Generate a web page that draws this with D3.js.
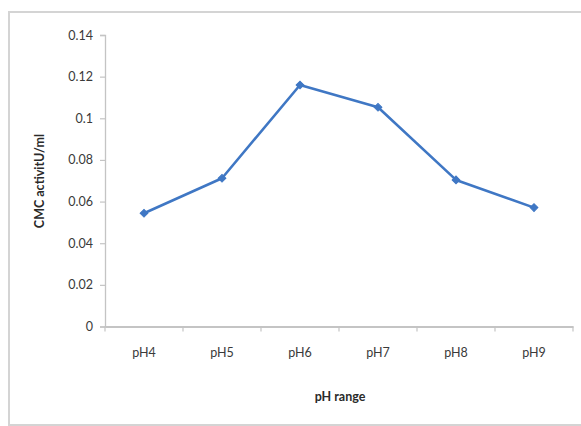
<!DOCTYPE html>
<html>
<head>
<meta charset="utf-8">
<script src="https://cdn.jsdelivr.net/npm/d3@7"></script>
<style>
  html, body { margin: 0; padding: 0; background: #fff; }
  svg { display: block; }
  text { font-family: Lato, "Open Sans", "Liberation Sans", sans-serif; }
</style>
</head>
<body>
<svg id="chart" width="581" height="426"></svg>
<script>
const categories = ["pH4", "pH5", "pH6", "pH7", "pH8", "pH9"];
const activity = [0.0544, 0.0712, 0.116, 0.1053, 0.0704, 0.0571];
const yTicks = [0, 0.02, 0.04, 0.06, 0.08, 0.1, 0.12, 0.14];
const yTickLabels = ["0", "0.02", "0.04", "0.06", "0.08", "0.1", "0.12", "0.14"];
const xTitle = "pH range";
const yTitle = "CMC activitU/ml";

(function () {
const svg = d3.select("#chart");

// outer frame (right and bottom edges run off the picture)
svg.append("rect").attr("x", 9).attr("y", 12).attr("width", 590).attr("height", 413)
  .attr("fill", "#fff").attr("stroke", "#d4d4d4").attr("stroke-width", 2);

const mLeft = 105, mRight = 573, mTop = 35, mBottom = 326.5;

const x = d3.scaleBand().domain(categories).range([mLeft, mRight]).paddingInner(0).paddingOuter(0);
const y = d3.scaleLinear().domain([0, 0.14]).range([mBottom, mTop]);

// y axis
const yAxis = d3.axisLeft(y).tickValues(yTicks).tickSize(5).tickPadding(7)
  .tickFormat((d, i) => yTickLabels[i]);
const gy = svg.append("g").attr("transform", `translate(${mLeft},0)`).call(yAxis);
gy.select(".domain").attr("stroke", "#c4c4c4").attr("stroke-width", 1.3);
gy.selectAll(".tick line").attr("stroke", "#c4c4c4").attr("stroke-width", 1.2);
gy.selectAll(".tick text").attr("fill", "#3a3a3a").style("font-size", "12.5px");

// x axis
const xAxis = d3.axisBottom(x).tickSize(0).tickPadding(22);
const gx = svg.append("g").attr("transform", `translate(0,${mBottom})`).call(xAxis);
gx.select(".domain").attr("stroke", "#c4c4c4").attr("stroke-width", 2);
gx.selectAll(".tick text").attr("fill", "#3a3a3a").style("font-size", "12.5px");
// category boundary ticks
const bounds = categories.map(c => x(c)).concat([x(categories[categories.length - 1]) + x.bandwidth()]);
svg.append("g").selectAll("line").data(bounds).join("line")
  .attr("x1", d => d).attr("x2", d => d)
  .attr("y1", mBottom).attr("y2", mBottom + 5)
  .attr("stroke", "#c4c4c4").attr("stroke-width", 1.2);

// axis titles
svg.append("text").attr("x", 340).attr("y", 401).attr("text-anchor", "middle")
  .attr("font-weight", "bold").attr("fill", "#2a2a2a").style("font-size", "12.5px").text(xTitle);
svg.append("text").attr("transform", "translate(44,181) rotate(-90)").attr("text-anchor", "middle")
  .attr("font-weight", "bold").attr("fill", "#2a2a2a").style("font-size", "12.5px").text(yTitle);

// line
const cx = c => x(c) + x.bandwidth() / 2;
const line = d3.line().x((d, i) => cx(categories[i])).y(d => y(d));
svg.append("path").datum(activity).attr("d", line)
  .attr("fill", "none").attr("stroke", "#3f77c4").attr("stroke-width", 2.6)
  .attr("stroke-linejoin", "round");

// diamond markers (square rotated 45°)
const square = d3.symbol().type(d3.symbolSquare).size(30);
svg.append("g").selectAll("path").data(activity).join("path")
  .attr("d", square)
  .attr("transform", (d, i) => `translate(${cx(categories[i])},${y(d)}) rotate(45)`)
  .attr("fill", "#3f77c4").attr("stroke", "#3f77c4").attr("stroke-width", 1);
})();
</script>
</body>
</html>
